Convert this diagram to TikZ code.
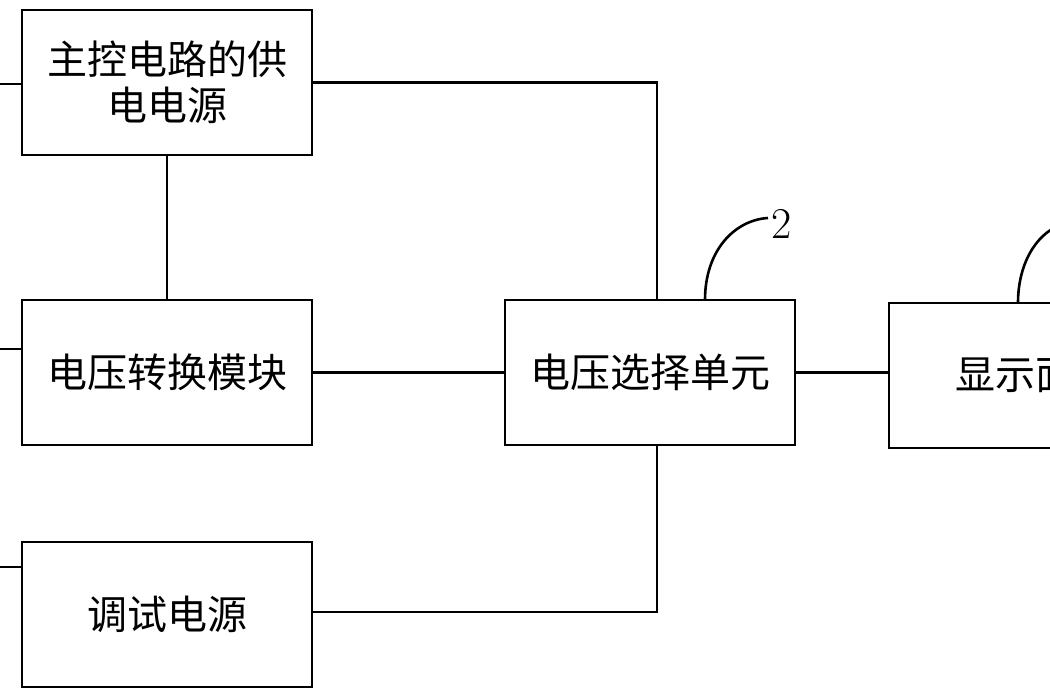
\documentclass[tikz,border=0pt]{standalone}
\usepackage{fontspec}
\newfontfamily\cjk{Noto Sans CJK SC}[Scale=1]
\begin{document}
\begin{tikzpicture}[x=1pt,y=-1pt,
  blk/.style={draw,line width=2.2pt,minimum width=290pt,minimum height=145pt,inner sep=0pt,
    font=\cjk\fontsize{40}{46}\selectfont,align=center},
  wire/.style={line width=2.2pt},
  lead/.style={line width=2.6pt}]
\useasboundingbox (0,0) rectangle (1050,700);
\clip (0,0) rectangle (1050,700);
\fill[white] (0,0) rectangle (1050,700);
\node[blk] (A) at (167,82.5) {主控电路的供\\电电源};
\node[blk] (B) at (167,372.5) {电压转换模块};
\node[blk] (C) at (167,614.5) {调试电源};
\node[blk] (D) at (650,372.5) {电压选择单元};
\node[blk,anchor=west] (E) at (888,375.5) {};
\node[font=\cjk\fontsize{40}{46}\selectfont,anchor=west,inner sep=0pt] (Et) at (955,375.5) {显示面};
\coordinate (AD) at (657,82.5);
\coordinate (DC) at (657,612);
\coordinate (DE) at (795,372.5);
\draw[wire] (A.east|-AD) -- (AD) -- (AD|-D.north);
\draw[wire] (A.south) -- (B.north);
\draw[wire] (B.east) -- (D.west);
\draw[wire] (D.south-|DC) -- (DC) -- (C.east|-DC);
\draw[wire] (DE) -- (E.west|-DE);
% leaders
\coordinate (la) at (0,84);
\coordinate (lb) at (0,349);
\coordinate (lc) at (0,567);
\draw[lead] (la) -- (A.west|-la);
\draw[lead] (lb) -- (B.west|-lb);
\draw[lead] (lc) -- (C.west|-lc);
\coordinate (d1) at (705,300);
\coordinate (d2) at (768,218);
\draw[lead] (d1) .. controls (705,250) and (735,220) .. (d2);
\node[font=\fontsize{44}{44}\selectfont,inner sep=0pt,anchor=west] (n2) at (771,224) {2};
\coordinate (e1) at (1018,303);
\coordinate (e2) at (1060,225);
\draw[lead] (e1) .. controls (1018,265) and (1035,235) .. (e2);
\end{tikzpicture}
\end{document}
